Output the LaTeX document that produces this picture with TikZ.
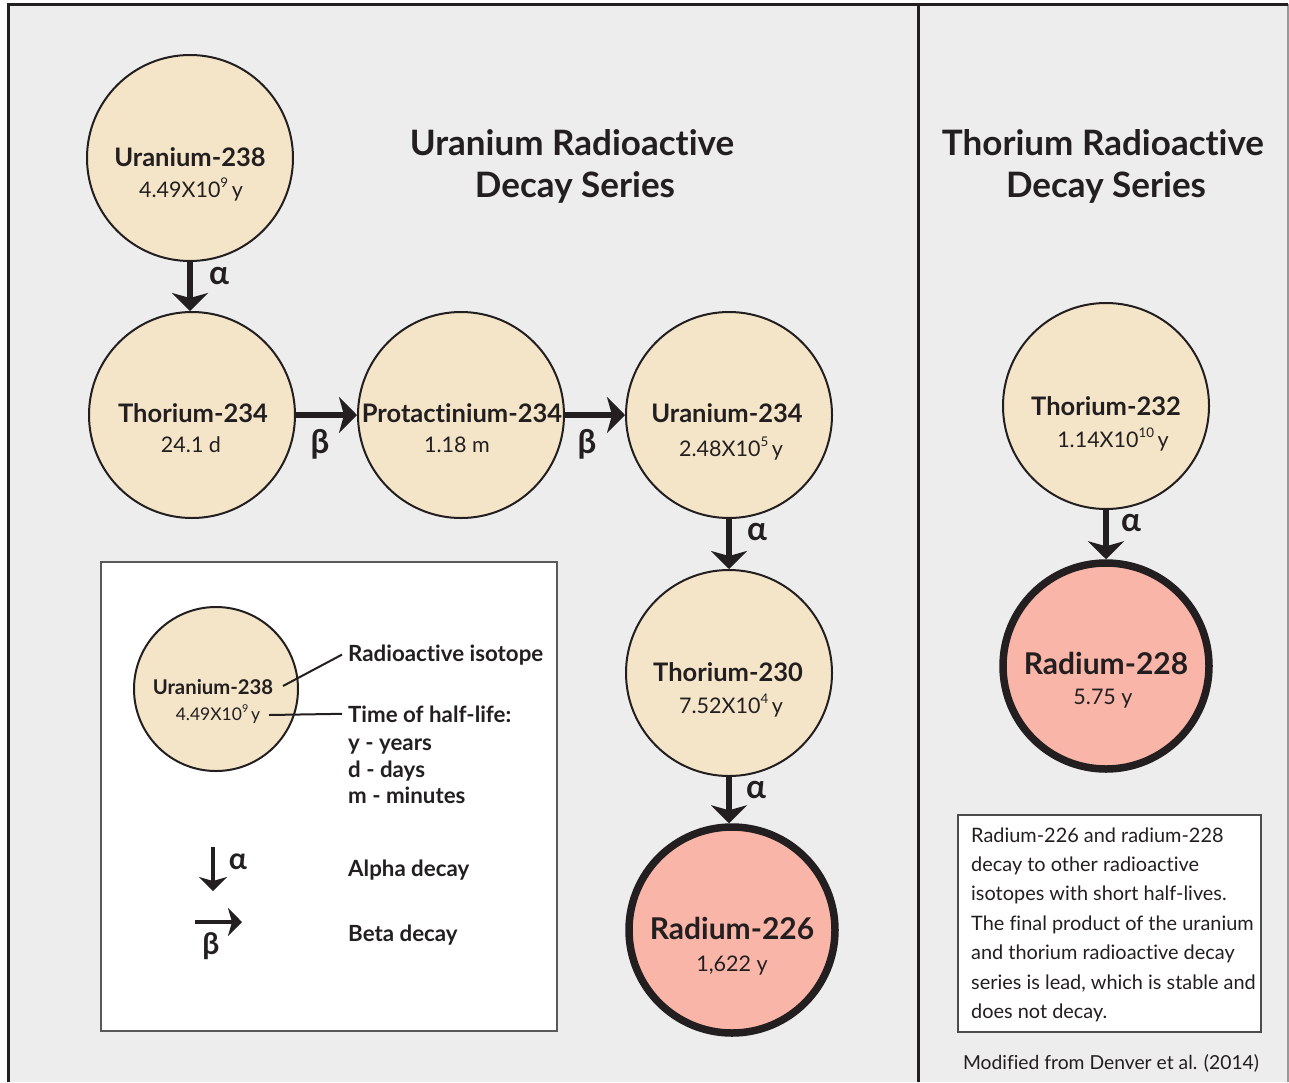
\documentclass[tikz,border=0pt]{standalone}
\usepackage{fontspec}
\setmainfont{Lato}[Ligatures=NoCommon]
\usetikzlibrary{arrows.meta}
\definecolor{ink}{HTML}{231F20}
\definecolor{beige}{HTML}{F4E5C9}
\definecolor{salmon}{HTML}{F8B5A8}
\definecolor{bg}{HTML}{EDEDED}
\newcommand\sups[1]{\raisebox{0.45em}{\scalebox{0.62}{#1}}}
\newcommand\fsz[1]{\fontsize{#1}{#1}\selectfont}
\begin{document}
\begin{tikzpicture}[x=1pt,y=-1pt,
  iso/.style={circle, draw=ink, line width=2pt, fill=beige, minimum size=206pt, inner sep=0pt},
  rad/.style={iso, fill=salmon, line width=7.5pt},
  nm/.style={anchor=base, inner sep=0pt, text=ink, font=\bfseries\fsz{25.5}},
  rnm/.style={nm, font=\bfseries\fsz{30}},
  hl/.style={anchor=base, inner sep=0pt, text=ink, font=\fsz{21.5}},
  arr/.style={draw=ink, line width=6pt, -{Stealth[length=18pt,width=36pt,inset=5pt]}},
  sarr/.style={draw=ink, line width=4pt, -{Stealth[length=14pt,width=28pt,inset=4pt]}},
  dl/.style={text=ink, inner sep=0pt, font=\bfseries\fsz{33}},
  ttl/.style={text=ink, inner sep=0pt, anchor=base, font=\bfseries\fsz{35}},
  leg/.style={anchor=base west, inner sep=0pt, text=ink, font=\bfseries\fsz{22.3}},
  note/.style={anchor=base west, inner sep=0pt, text=ink, font=\fsz{19.9}}]
\useasboundingbox (0,0) rectangle (1289,1082);
\fill[white] (0,0) rectangle (1289,1082);
% frame
\fill[bg] (9,4) rectangle (1288,1082);
\draw[line width=1.2pt, draw=gray!80] (1288,4) -- (1288,1082);
\draw[ink, line width=3pt] (8.7,1082) -- (8.7,4) -- (1288,4);
\draw[ink, line width=3pt] (918.7,4) -- (918.7,1082);

% titles
\node[ttl] (t1a) at (572,155) {Uranium Radioactive};
\node[ttl] (t1b) at (575,197) {Decay Series};
\node[ttl] (t2a) at (1103,155) {Thorium Radioactive};
\node[ttl] (t2b) at (1106,197) {Decay Series};

% uranium chain circles
\node[iso] (u238) at (190,158) {};
\node[iso] (th234) at (192,415) {};
\node[iso] (pa234) at (461,415) {};
\node[iso] (u234) at (729,415) {};
\node[iso] (th230) at (729,673) {};
\node[rad] (ra226) at (732,930) {};
% thorium chain circles
\node[iso] (th232) at (1106,406) {};
\node[rad] (ra228) at (1106,666) {};

% texts in circles
\node[nm] (u238n) at (190,166) {Uranium-238};
\node[hl] (u238h) at (191,197) {4.49X10\sups{9}\,y};
\node[nm] (th234n) at (193,422) {Thorium-234};
\node[hl] (th234h) at (191,452) {24.1 d};
\node[nm] (pa234n) at (462,422) {Protactinium-234};
\node[hl] (pa234h) at (457,452) {1.18 m};
\node[nm] (u234n) at (727,422) {Uranium-234};
\node[hl] (u234h) at (731,456) {2.48X10\sups{5}\,y};
\node[nm] (th230n) at (728,681) {Thorium-230};
\node[hl] (th230h) at (731,713) {7.52X10\sups{4}\,y};
\node[rnm] (ra226n) at (732,939) {Radium-226};
\node[hl] (ra226h) at (732,971) {1,622 y};
\node[nm] (th232n) at (1106,415) {Thorium-232};
\node[hl] (th232h) at (1113,447) {1.14X10\sups{10}\,y};
\node[rnm] (ra228n) at (1106,674) {Radium-228};
\node[hl] (ra228h) at (1103,704) {5.75 y};

% decay arrows
\draw[arr] (u238) -- (u238 |- th234.north);
\draw[arr] (th234) -- (pa234);
\draw[arr] (pa234) -- (u234);
\draw[arr] (u234) -- (th230);
\draw[arr] (th230) -- (th230 |- ra226.north);
\draw[arr] (th232) -- (ra228);
\node[dl] (a1) at (219,276) {α};
\node[dl] (b1) at (320,444) {β};
\node[dl] (b2) at (587,444) {β};
\node[dl] (a2) at (757,532) {α};
\node[dl] (a3) at (756,790) {α};
\node[dl] (a4) at (1131,523) {α};

% legend box
\draw[draw=gray!70!black, line width=1.5pt, fill=white] (101,562) rectangle (557,1031);
\node[iso, minimum size=164pt] (lgc) at (216,689) {};
\node[anchor=base, inner sep=0pt, text=ink, font=\bfseries\fsz{20.3}] (lgn) at (213,694) {Uranium-238};
\node[anchor=base, inner sep=0pt, text=ink, font=\fsz{17.5}] (lgh) at (218,720) {4.49X10\sups{9}\,y};
\node[leg, inner xsep=6pt, xshift=-6pt] (lgiso) at (348,661) {Radioactive isotope};
\node[leg, inner xsep=6pt, xshift=-6pt] (lghalf) at (348,722) {Time of half-life:};
\node[leg] (lgy) at (348,750) {y - years};
\node[leg] (lgd) at (348,777) {d - days};
\node[leg] (lgm) at (348,803) {m - minutes};
\node[leg] (lga) at (348,876) {Alpha decay};
\node[leg] (lgb) at (348,941) {Beta decay};
\coordinate (c1) at (283,686);
\coordinate (c2) at (269,715);
\draw[ink, line width=2pt] (c1) -- (lgiso.west);
\draw[ink, line width=2pt] (c2) -- (lghalf.west);
\draw[sarr] (213,847) -- (213,891);
\node[dl, font=\bfseries\fsz{30}] (la) at (238,862) {α};
\draw[sarr] (195,922) -- (242,922);
\node[dl, font=\bfseries\fsz{30}] (lb) at (211,946) {β};

% note box
\draw[draw=gray!60!black, line width=1.2pt, fill=white] (958,815) rectangle (1261,1032);
\foreach \t [count=\i] in {Radium-226 and radium-228, decay to other radioactive, isotopes with short half-lives., The final product of the uranium, and thorium radioactive decay, {series is lead, which is stable and}, does not decay.}
  \node[note] (note\i) at (971,{842+29.4*(\i-1)}) {\t};
\node[anchor=base, inner sep=0pt, text=ink, font=\fsz{19.3}] (credit) at (1111,1069) {Modified from Denver et al. (2014)};
\end{tikzpicture}
\end{document}
